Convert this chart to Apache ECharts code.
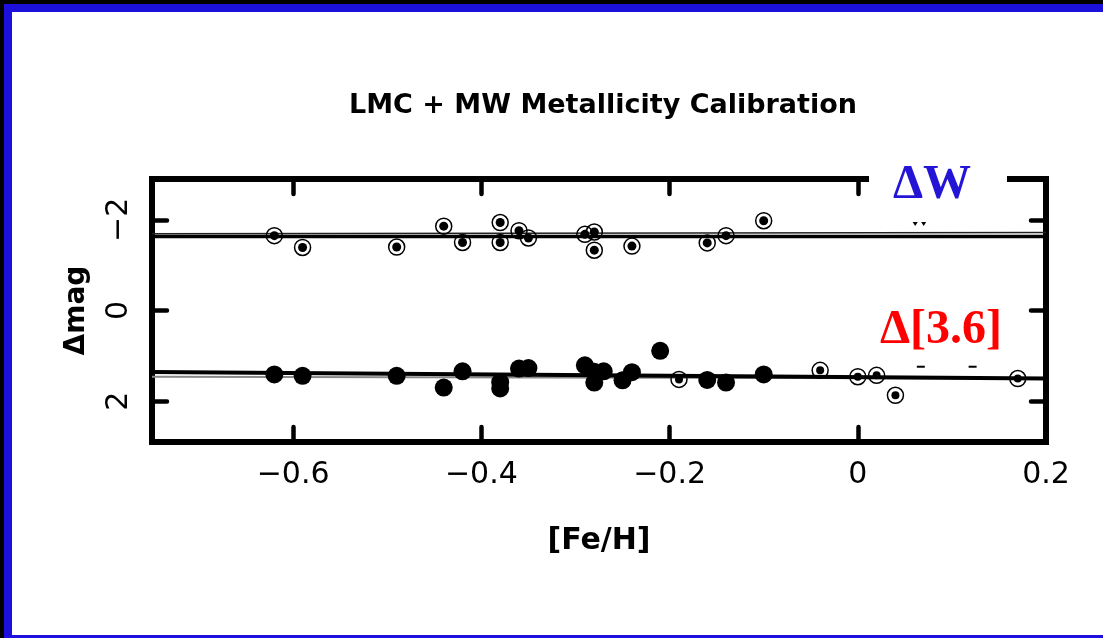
<!DOCTYPE html>
<html>
<head>
<meta charset="utf-8">
<script src="https://cdn.jsdelivr.net/npm/echarts@6.0.0/dist/echarts.min.js"></script>
<style>
html,body{margin:0;padding:0;background:#fff;}
#chart{width:1103px;height:638px;}
</style>
</head>
<body>
<div id="chart"></div>
<script>
// ---- data ----
const xTicks = [-0.6, -0.4, -0.2, 0, 0.2];
const yTicks = [-2, 0, 2];

// Upper panel: ΔW (circled points)
const dwFeH = [-0.62, -0.59, -0.49, -0.44, -0.42, -0.38, -0.38, -0.36, -0.35, -0.29, -0.28, -0.28, -0.24, -0.16, -0.14, -0.10];
const dwMag = [-1.65, -1.39, -1.40, -1.86, -1.50, -1.94, -1.50, -1.76, -1.60, -1.68, -1.73, -1.33, -1.42, -1.49, -1.65, -1.98];

// Lower panel: Δ[3.6] LMC (filled) and MW (circled)
const lmcFeH = [-0.62, -0.59, -0.49, -0.44, -0.42, -0.38, -0.38, -0.36, -0.35, -0.29, -0.28, -0.27, -0.28, -0.25, -0.24, -0.21, -0.16, -0.14, -0.10];
const lmcMag = [1.41, 1.44, 1.44, 1.70, 1.34, 1.58, 1.72, 1.28, 1.27, 1.21, 1.35, 1.34, 1.59, 1.54, 1.36, 0.89, 1.53, 1.59, 1.41];
const mwFeH = [-0.19, -0.04, 0.00, 0.02, 0.04, 0.17];
const mwMag = [1.52, 1.32, 1.46, 1.43, 1.87, 1.50];

// Fit lines (endpoints)
const fitX = [-0.75, 0.2];
const fitW_main = [-1.63, -1.63];
const fitW_alt = [-1.69, -1.72];
const fit36_main = [1.354, 1.50];
const fit36_alt = [1.46, 1.50];

// Small stray marks near the labels
const dotsX = [0.061, 0.070];
const dotsY = [-1.905, -1.905];
const dashX = [0.067, 0.122];
const dashY = [1.24, 1.24];

const zip = (a, b) => a.map((v, i) => [v, b[i]]);
const fmt = v => (v < 0 ? '\u2212' + Math.abs(v) : String(v));

const chart = echarts.init(document.getElementById('chart'), null, {renderer: 'canvas'});

const tickStyle = {show: true, inside: true, length: 15, lineStyle: {color: '#000', width: 4.5, cap: 'round'}};
const noLine = {show: false, onZero: false};

const option = {
  animation: false,
  backgroundColor: '#fff',
  title: {
    text: 'LMC + MW Metallicity Calibration',
    left: 598, top: 87, textAlign: 'center',
    textStyle: {fontFamily: 'DejaVu Sans', fontWeight: 'bold', fontSize: 27, color: '#000'}
  },
  grid: {left: 152, right: 57, top: 179, bottom: 196, show: true, borderColor: '#000', borderWidth: 6, backgroundColor: 'transparent'},
  xAxis: [{
    type: 'value', min: -0.75, max: 0.2, position: 'bottom',
    name: '[Fe/H]', nameLocation: 'middle', nameGap: 84,
    nameTextStyle: {fontFamily: 'DejaVu Sans', fontWeight: 'bold', fontSize: 30, color: '#000'},
    axisLine: noLine, splitLine: {show: false},
    axisTick: Object.assign({customValues: xTicks}, tickStyle),
    axisLabel: {customValues: xTicks, formatter: fmt, margin: 18, fontFamily: 'DejaVu Sans', fontSize: 30, color: '#000'}
  }, {
    type: 'value', min: -0.75, max: 0.2, position: 'top',
    axisLine: noLine, splitLine: {show: false},
    axisTick: Object.assign({customValues: xTicks}, tickStyle),
    axisLabel: {show: false}
  }],
  yAxis: [{
    type: 'value', min: -2.9, max: 2.9, inverse: true, position: 'left',
    name: '\u0394mag', nameLocation: 'middle', nameGap: 61, nameRotate: 90,
    nameTextStyle: {fontFamily: 'DejaVu Sans', fontWeight: 'bold', fontSize: 28, color: '#000'},
    axisLine: noLine, splitLine: {show: false},
    axisTick: Object.assign({customValues: yTicks}, tickStyle),
    axisLabel: {customValues: yTicks, formatter: fmt, rotate: 90, margin: 18, fontFamily: 'DejaVu Sans', fontSize: 30, color: '#000'}
  }, {
    type: 'value', min: -2.9, max: 2.9, inverse: true, position: 'right',
    axisLine: noLine, splitLine: {show: false},
    axisTick: Object.assign({customValues: yTicks}, tickStyle),
    axisLabel: {show: false}
  }],
  series: [
    {type: 'line', data: zip(fitX, fitW_alt), symbol: 'none', lineStyle: {color: '#222', width: 1.5}, z: 2},
    {type: 'line', data: zip(fitX, fitW_main), symbol: 'none', lineStyle: {color: '#000', width: 3.5}, z: 3},
    {type: 'line', data: zip(fitX, fit36_alt), symbol: 'none', lineStyle: {color: '#888', width: 2}, z: 2},
    {type: 'line', data: zip(fitX, fit36_main), symbol: 'none', lineStyle: {color: '#000', width: 4}, z: 3},
    // ΔW circled points
    {type: 'scatter', data: zip(dwFeH, dwMag), symbol: 'circle', symbolSize: 16,
      itemStyle: {color: 'rgba(0,0,0,0)', borderColor: '#000', borderWidth: 1.5, opacity: 1}, z: 4},
    {type: 'scatter', data: zip(dwFeH, dwMag), symbol: 'circle', symbolSize: 9, itemStyle: {color: '#000', opacity: 1}, z: 5},
    // Δ[3.6] LMC filled
    {type: 'scatter', data: zip(lmcFeH, lmcMag), symbol: 'circle', symbolSize: 18, itemStyle: {color: '#000', opacity: 1}, z: 5},
    // Δ[3.6] MW circled
    {type: 'scatter', data: zip(mwFeH, mwMag), symbol: 'circle', symbolSize: 16,
      itemStyle: {color: 'rgba(0,0,0,0)', borderColor: '#000', borderWidth: 1.5, opacity: 1}, z: 4},
    {type: 'scatter', data: zip(mwFeH, mwMag), symbol: 'circle', symbolSize: 8, itemStyle: {color: '#000', opacity: 1}, z: 5},
    // stray marks
    {type: 'scatter', data: zip(dotsX, dotsY), symbol: 'triangle', symbolRotate: 180, symbolSize: [5, 4], itemStyle: {color: '#000', opacity: 1}, z: 5},
    {type: 'scatter', data: zip(dashX, dashY), symbol: 'rect', symbolSize: [8, 2], itemStyle: {color: '#000', opacity: 1}, z: 5}
  ],
  graphic: [
    // window frame
    {type: 'rect', shape: {x: 0, y: 0, width: 1103, height: 4}, style: {fill: '#000'}, z: 200, silent: true},
    {type: 'rect', shape: {x: 0, y: 0, width: 4, height: 638}, style: {fill: '#000'}, z: 200, silent: true},
    {type: 'rect', shape: {x: 4, y: 4, width: 1099, height: 8}, style: {fill: '#1e10dc'}, z: 200, silent: true},
    {type: 'rect', shape: {x: 4, y: 4, width: 8, height: 634}, style: {fill: '#1e10dc'}, z: 200, silent: true},
    {type: 'rect', shape: {x: 4, y: 635, width: 1099, height: 3}, style: {fill: '#1e10dc'}, z: 200, silent: true},
    // ΔW label with white background
    {type: 'rect', shape: {x: 869, y: 168, width: 138, height: 20}, style: {fill: '#fff'}, z: 150, silent: true},
    {type: 'text', x: 932, y: 186, z: 160, silent: true,
      style: {text: '\u0394W', fill: '#2414d6', font: 'bold 48px "Liberation Serif", "Times New Roman", serif', textAlign: 'center', textVerticalAlign: 'middle'}},
    {type: 'text', x: 941, y: 331, z: 160, silent: true,
      style: {text: '\u0394[3.6]', fill: '#f00', font: 'bold 48px "Liberation Serif", "Times New Roman", serif', textAlign: 'center', textVerticalAlign: 'middle'}}
  ]
};
chart.setOption(option);
</script>
</body>
</html>
